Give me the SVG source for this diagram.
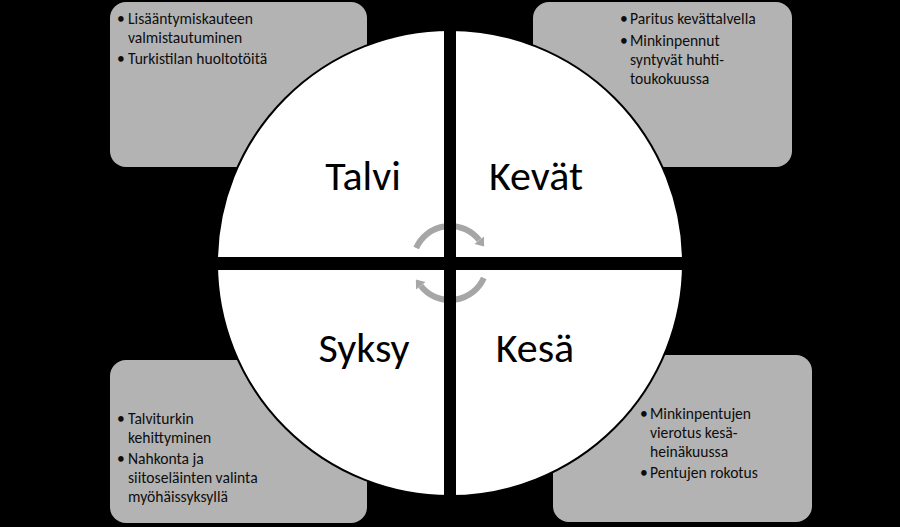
<svg xmlns="http://www.w3.org/2000/svg" width="900" height="527" viewBox="0 0 900 527">
<style>
.box{fill:#b3b3b3;}
.t{font-family:Carlito,Calibri,Lato,"Open Sans",sans-serif;font-size:15.6px;fill:#0d0d0d;}
.s{font-family:Carlito,Calibri,Lato,"Open Sans",sans-serif;font-size:42px;fill:#000;text-anchor:middle;}
.arc{fill:none;stroke:#a6a6a6;stroke-width:6;}
</style>
<defs>
<marker id="ah" markerUnits="userSpaceOnUse" viewBox="-2 -8 12 16" refX="0" refY="0" markerWidth="12" markerHeight="16" orient="auto">
<path d="M0,-6 L8,0 L0,6 z" fill="#a6a6a6"/>
</marker>
</defs>
<rect width="900" height="527" fill="#000"/>
<g id="box-talvi">
<rect class="box" x="110" y="2" width="257" height="165" rx="16"/>
<text class="t" y="24"><tspan x="117">•</tspan><tspan x="128">Lisääntymiskauteen</tspan></text>
<text class="t" x="128" y="43">valmistautuminen</text>
<text class="t" y="64"><tspan x="117">•</tspan><tspan x="128">Turkistilan huoltotöitä</tspan></text>
</g>
<g id="box-kevat">
<rect class="box" x="533" y="2" width="259" height="165" rx="16"/>
<text class="t" y="24"><tspan x="620">•</tspan><tspan x="630">Paritus kevättalvella</tspan></text>
<text class="t" y="46"><tspan x="620">•</tspan><tspan x="630">Minkinpennut</tspan></text>
<text class="t" x="630" y="65">syntyvät huhti-</text>
<text class="t" x="630" y="84">toukokuussa</text>
</g>
<g id="box-syksy">
<rect class="box" x="110" y="360" width="257" height="163" rx="16"/>
<text class="t" y="424"><tspan x="117">•</tspan><tspan x="128">Talviturkin</tspan></text>
<text class="t" x="128" y="443">kehittyminen</text>
<text class="t" y="464"><tspan x="117">•</tspan><tspan x="128">Nahkonta ja</tspan></text>
<text class="t" x="128" y="483">siitoseläinten valinta</text>
<text class="t" x="128" y="502">myöhäissyksyllä</text>
</g>
<g id="box-kesa">
<rect class="box" x="553" y="355" width="259" height="167" rx="16"/>
<text class="t" y="419"><tspan x="640">•</tspan><tspan x="650">Minkinpentujen</tspan></text>
<text class="t" x="650" y="438">vierotus kesä-</text>
<text class="t" x="650" y="457">heinäkuussa</text>
<text class="t" y="478"><tspan x="640">•</tspan><tspan x="650">Pentujen rokotus</tspan></text>
</g>
<g id="circle">
<circle cx="450" cy="263" r="233" fill="#fff" stroke="#000" stroke-width="2"/>
</g>
<g id="connectors">
<path class="arc" d="M416.2,248 A37 37 0 0 1 479.2,240.2" marker-end="url(#ah)"/>
<path class="arc" d="M483.8,278 A37 37 0 0 1 420.8,285.8" marker-end="url(#ah)"/>
</g>
<g id="cross">
<rect x="444" y="28" width="12" height="470" fill="#000"/>
<rect x="216" y="257" width="468" height="13" fill="#000"/>
</g>
<g id="season-talvi"><text class="s" x="363" y="190">Talvi</text></g>
<g id="season-kevat"><text class="s" x="536" y="190">Kevät</text></g>
<g id="season-syksy"><text class="s" x="364" y="362">Syksy</text></g>
<g id="season-kesa"><text class="s" x="535" y="362">Kesä</text></g>
</svg>
